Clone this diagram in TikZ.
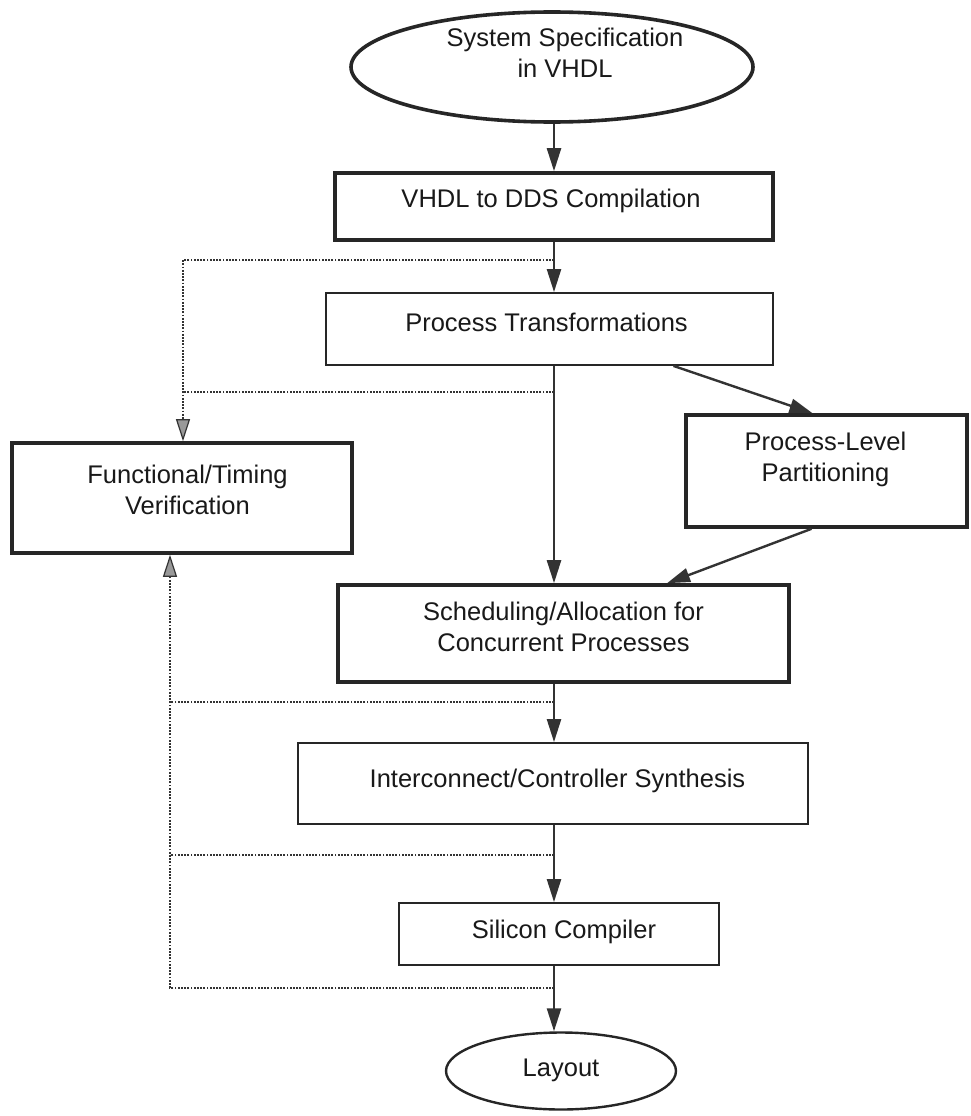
\documentclass[tikz,border=0pt]{standalone}
\usepackage{fontspec}
\setmainfont{Liberation Sans}
\usetikzlibrary{arrows.meta,shapes.geometric,calc}
\begin{document}
\begin{tikzpicture}[x=1pt,y=-1pt,
  ink/.style={draw=black!85},
  boldbox/.style={rectangle, ink, line width=3.6pt, inner sep=0pt},
  thinbox/.style={rectangle, ink, line width=1.8pt, inner sep=0pt},
  oval/.style={ellipse, ink, inner sep=0pt},
  lbl/.style={font=\fontsize{25.5pt}{31pt}\selectfont, align=center, inner sep=0pt, text=black!90},
  flow/.style={draw=black!80, line width=2.4pt, -{Triangle[length=23pt,width=14pt]}},
  fb/.style={draw=black!80, line width=2.6pt, dash pattern=on 1.8pt off 1.4pt},
  fbarrow/.style={fb, -{Triangle[length=22pt,width=14pt,fill=black!40,line width=1.2pt]}},
]
\path[fill=white, use as bounding box] (0,0) rectangle (970,1116);

% main flow column
\coordinate (spine) at (554,0);

\node[oval, line width=3.6pt, minimum width=402pt, minimum height=110pt,
      label={[lbl,xshift=13pt,yshift=13.8pt]center:{System Specification\\in VHDL}}] (spec) at (552,67) {};
\node[boldbox, minimum width=438pt, minimum height=67pt,
      label={[lbl,xshift=-3pt,yshift=6pt]center:VHDL to DDS Compilation}] (vhdl) at (554,206.5) {};
\node[thinbox, minimum width=447pt, minimum height=72pt,
      label={[lbl,xshift=-3pt,yshift=7pt]center:Process Transformations}] (pt) at (549.5,329) {};
\node[boldbox, minimum width=281pt, minimum height=112pt,
      label={[lbl,xshift=-1pt,yshift=11.7pt]center:{Process-Level\\Partitioning}}] (pl) at (826.5,471) {};
\node[boldbox, minimum width=340pt, minimum height=110pt,
      label={[lbl,xshift=5.5pt,yshift=8.2pt]center:{Functional/Timing\\Verification}}] (fv) at (182,498) {};
\node[boldbox, minimum width=451pt, minimum height=97pt,
      label={[lbl,yshift=6.7pt]center:{Scheduling/Allocation for\\Concurrent Processes}}] (sched) at (563.5,633.5) {};
\node[thinbox, minimum width=510pt, minimum height=81pt,
      label={[lbl,xshift=4.5pt,yshift=3pt]center:Interconnect/Controller Synthesis}] (ic) at (553,783.5) {};
\node[thinbox, minimum width=320pt, minimum height=62pt,
      label={[lbl,xshift=5pt,yshift=2.6pt]center:Silicon Compiler}] (sc) at (559,934) {};
\node[oval, line width=2.4pt, minimum width=230pt, minimum height=77pt,
      label={[lbl,yshift=0.6pt]center:Layout}] (lay) at (561,1071) {};

% forward flow
\draw[flow] (spec.south -| spine) -- (vhdl.north -| spine);
\draw[flow] (vhdl.south -| spine) -- (pt.north -| spine);
\draw[flow] (pt.south -| spine) -- (sched.north -| spine);
\draw[flow] ($(pt.south)+(124,0)$) -- ($(pl.north)+(-14,0)$);
\draw[flow] ($(pl.south)+(-15,0)$) -- ($(sched.north)+(103.5,0)$);
\draw[flow] (sched.south -| spine) -- (ic.north -| spine);
\draw[flow] (ic.south -| spine) -- (sc.north -| spine);
\draw[flow] (sc.south -| spine) -- (lay.north -| spine);

% verification taps
\coordinate (tapA) at (554,260);
\coordinate (tapB) at (554,392);
\coordinate (tapC) at (554,702);
\coordinate (tapD) at (554,855);
\coordinate (tapE) at (554,988);
\coordinate (railL) at (183,0);
\coordinate (railR) at (170,0);

\draw[fbarrow] (tapA) -- (tapA -| railL) -- (fv.north -| railL);
\draw[fb] (tapB) -- (tapB -| railL);
\draw[fbarrow] (tapE) -- (tapE -| railR) -- (fv.south -| railR);
\draw[fb] (tapC) -- (tapC -| railR);
\draw[fb] (tapD) -- (tapD -| railR);
\end{tikzpicture}
\end{document}
